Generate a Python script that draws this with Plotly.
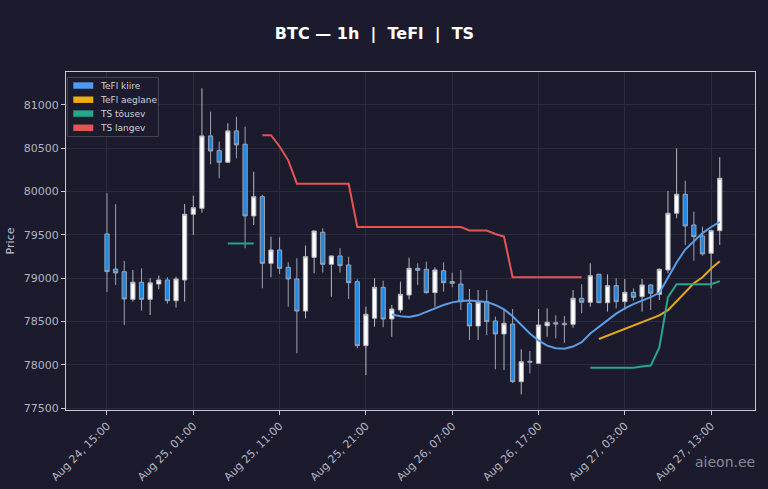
import pandas as pd
import plotly.graph_objects as go

# hourly candles, Aug 24 15:00 -> Aug 27 14:00
times = pd.date_range("2025-08-24 15:00", periods=72, freq="h")

open_ = [79510, 79105, 79074, 78755, 78952, 78755, 78932, 78978, 78739, 78978,
         79737, 79806, 80642, 80472, 80338, 80700, 80546, 79718, 79940, 79171,
         79325, 79125, 78990, 78620, 79240, 79530, 79160, 79256, 79152, 78959,
         78220, 78536, 78894, 78528, 78632, 78805, 79113, 79102, 78832, 79086,
         78960, 78932, 78709, 78447, 78728, 78505, 78355, 78470, 77804, 78040,
         78016, 78450, 78485, 78478, 78467, 78767, 78721, 79044, 78716, 78913,
         78728, 78836, 78786, 78921, 78813, 79094, 79749, 79968, 79614, 79487,
         79287, 79548]
high = [79980, 79853, 79198, 79094, 79113, 79000, 79028, 79010, 79016, 79856,
        79952, 81192, 80922, 80576, 80788, 80864, 80749, 80229, 79960, 79478,
        79471, 79183, 79229, 79375, 79550, 79575, 79260, 79345, 79248, 78986,
        78670, 78998, 78970, 78690, 78959, 79236, 79171, 79190, 79125, 79183,
        79063, 79094, 78874, 78863, 78863, 78555, 78632, 78643, 78178, 78158,
        78643, 78651, 78570, 78563, 78863, 78930, 79171, 79050, 79044, 78998,
        78990, 78882, 78990, 78932, 79110, 80006, 80499, 80125, 79767, 79594,
        79560, 80396]
low = [78840, 78921, 78459, 78728, 78624, 78574, 78871, 78705, 78659, 78728,
       79498, 79756, 80315, 80153, 80333, 80384, 79345, 79614, 78882, 79010,
       79048, 78670, 78132, 78536, 79056, 79063, 78786, 79063, 78759, 78190,
       77881, 78439, 78432, 78323, 78600, 78755, 78921, 78820, 78670, 78843,
       78894, 78632, 78285, 78285, 78343, 77947, 77939, 77790, 77658, 77900,
       78010, 78323, 78305, 78254, 78427, 78594, 78670, 78716, 78613, 78651,
       78632, 78740, 78613, 78632, 78747, 79056, 79691, 79383, 79201, 79260,
       78882, 79383]
close = [79075, 79060, 78759, 78952, 78755, 78945, 78978, 78739, 78990, 79737,
         79813, 80642, 80468, 80338, 80700, 80538, 79718, 79940, 79171, 79325,
         79113, 78990, 78620, 79248, 79544, 79160, 79256, 79144, 78947, 78220,
         78582, 78894, 78528, 78643, 78813, 79113, 79090, 78832, 79094, 78947,
         78940, 78728, 78447, 78721, 78497, 78355, 78478, 77804, 78035, 78030,
         78459, 78490, 78470, 78462, 78767, 78721, 79028, 78716, 78913, 78728,
         78836, 78779, 78921, 78825, 79102, 79749, 79968, 79602, 79479, 79279,
         79548, 80153]

# indicator lines (first candle index + values)
tefl_fast_start = 33
tefl_fast = [78580, 78560, 78550, 78570, 78610, 78650, 78690, 78720, 78735, 78740,
             78735, 78725, 78690, 78640, 78560, 78460, 78360, 78280, 78220, 78190,
             78185, 78210, 78260, 78360, 78440, 78520, 78590, 78650, 78700, 78740,
             78780, 78830, 79010, 79180, 79330, 79430, 79520, 79590, 79650]
tefl_slow_start = 57
tefl_slow = [78297, 78335, 78375, 78415, 78455, 78490, 78525, 78570, 78630, 78735,
             78830, 78940, 79010, 79110, 79195]
ts_up = ([None] * 14 + [79400, 79400, 79400, 79400] + [None] * 38
         + [77965, 77965, 77965, 77965, 77965, 77965, 77980, 77990, 78200, 78780,
            78930, 78930, 78930, 78930, 78930, 78965])
ts_down_start = 18
ts_down = [80650, 80650, 80520, 80360, 80090, 80090, 80090, 80090, 80090, 80090,
           80090, 79590, 79590, 79590, 79590, 79590, 79590, 79590, 79590, 79590,
           79590, 79590, 79590, 79590, 79550, 79550, 79550, 79510, 79480, 79010,
           79010, 79010, 79010, 79010, 79010, 79010, 79010, 79010]

legend_names = ["TeFl kiire", "TeFl aeglane", "TS tõusev", "TS langev"]
legend_colors = ["#4f9bf0", "#f0ac10", "#26a68a", "#e35454"]

bg = "#1b1b2d"
grid = "#2a2b40"

fig = go.Figure()

fig.add_trace(go.Candlestick(
    x=times, open=open_, high=high, low=low, close=close,
    increasing=dict(fillcolor="#ffffff", line=dict(color="#b8b8c0", width=1)),
    decreasing=dict(fillcolor="#1e88e5", line=dict(color="#9aa4b4", width=1)),
    showlegend=False, name="BTC",
))

line_colors = ["#5b9ee8", "#e6a817", "#26a68a", "#e35454"]
line_x = [times[tefl_fast_start:tefl_fast_start + len(tefl_fast)],
          times[tefl_slow_start:tefl_slow_start + len(tefl_slow)],
          times,
          times[ts_down_start:ts_down_start + len(ts_down)]]
line_y = [tefl_fast, tefl_slow, ts_up, ts_down]
for name, color, xs, ys in zip(legend_names, line_colors, line_x, line_y):
    fig.add_trace(go.Scatter(x=xs, y=ys, mode="lines", name=name,
                             line=dict(color=color, width=2), showlegend=False))

# hand-drawn legend box (matplotlib style patches)
fig.add_shape(type="rect", xref="paper", yref="paper",
              x0=0.002, x1=0.134, y0=0.809, y1=0.984,
              fillcolor=bg, line=dict(color="#45465a", width=1), layer="above")
row_y = [0.960, 0.918, 0.877, 0.835]
for name, color, ry in zip(legend_names, legend_colors, row_y):
    fig.add_shape(type="rect", xref="paper", yref="paper",
                  x0=0.0106, x1=0.0396, y0=ry - 0.0095, y1=ry + 0.0095,
                  fillcolor=color, line=dict(width=0), layer="above")
    fig.add_annotation(text=name, xref="paper", yref="paper", x=0.047, y=ry,
                       xanchor="left", yanchor="middle", showarrow=False,
                       font=dict(size=9, color="#d0d0d8"))

fig.update_layout(
    width=768, height=489,
    paper_bgcolor=bg, plot_bgcolor=bg,
    font=dict(family="DejaVu Sans", color="#c4c4cc", size=11),
    title=dict(text="<b>BTC — 1h  |  TeFl  |  TS</b>", x=0.4876, y=0.943,
               xanchor="center", font=dict(size=16, color="#ffffff")),
    margin=dict(l=66, r=13, t=72, b=79),
    showlegend=False,
    xaxis=dict(
        rangeslider=dict(visible=False),
        range=[times[0] - pd.Timedelta(minutes=285), times[-1] + pd.Timedelta(minutes=245)],
        tickvals=list(times[::10]),
        ticktext=[t.strftime("%b %d, %H:%M") for t in times[::10]],
        tickangle=-45, tickfont=dict(size=11, color="#b4b4c0"),
        showgrid=True, gridcolor=grid, gridwidth=1, automargin=False,
        showline=True, linecolor="#c8c8d0", linewidth=1.2, mirror=True,
        ticks="outside", ticklen=4, tickcolor="#c8c8d0", zeroline=False,
    ),
    yaxis=dict(
        range=[77477, 81380],
        dtick=500, tickformat="d", automargin=False,
        title=dict(text="Price", font=dict(size=11, color="#c4c4cc"), standoff=6),
        tickfont=dict(size=11, color="#b4b4c0"),
        showgrid=True, gridcolor=grid, gridwidth=1,
        showline=True, linecolor="#c8c8d0", linewidth=1.2, mirror=True,
        ticks="outside", ticklen=4, tickcolor="#c8c8d0", zeroline=False,
    ),
)

fig.add_annotation(text="aieon.ee", xref="paper", yref="paper",
                   x=1.003, y=-0.155, xanchor="right", yanchor="middle",
                   showarrow=False, font=dict(size=14, color="#8a8a96"))

fig.write_html("out.html", config={"displayModeBar": False},
               post_script="document.body.style.margin='0';"
                           "document.body.style.background='#1b1b2d';")
